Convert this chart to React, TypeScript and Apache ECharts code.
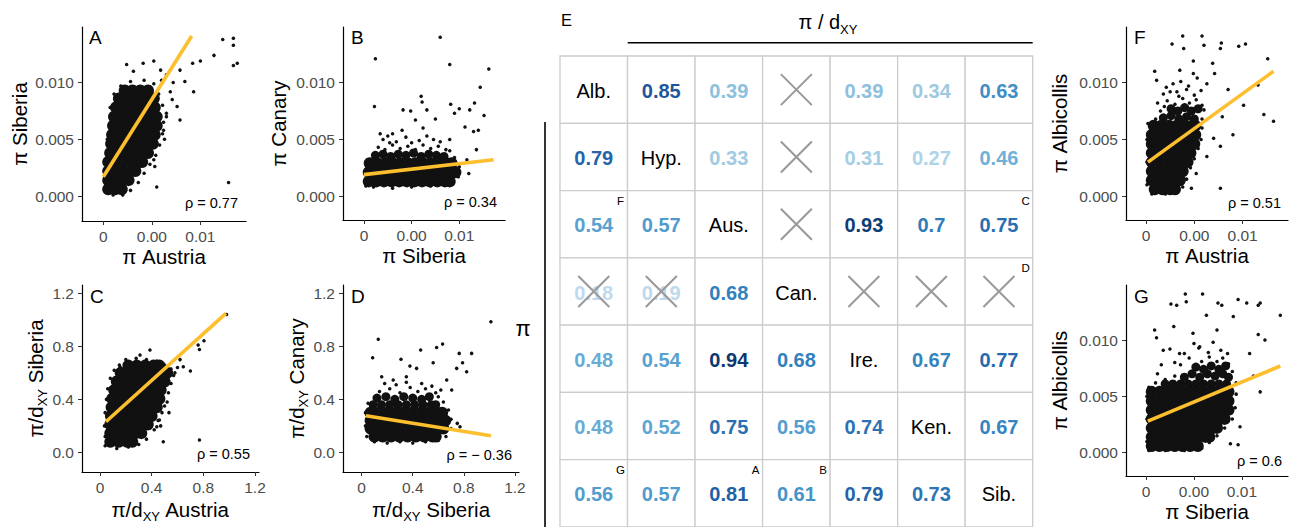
import React, { useEffect, useRef } from 'react';
import * as echarts from 'echarts';

const FONT = '"Liberation Sans", Arial, Helvetica, sans-serif';
const FIT_COLOR = '#FDBF2E';

// ---------- tick values and labels ----------
const piTicks = [0, 0.005, 0.01];
const piXTickLabels = ['0', '0.00', '0.01'];
const piYTickLabels = ['0.000', '0.005', '0.010'];
const ratioTicks = [0, 0.4, 0.8, 1.2];
const ratioXTickLabels = ['0', '0.4', '0.8', '1.2'];
const ratioYTickLabels = ['0.0', '0.4', '0.8', '1.2'];

// ---------- Panel A: pi Austria vs pi Siberia ----------
const aCore = [
  [0.0005,0.0006],[0.0012,0.0006],[0.0019,0.0006],
  [0.0005,0.0014],[0.0013,0.0014],[0.0020,0.0014],[0.0026,0.0014],
  [0.0005,0.0022],[0.0013,0.0022],[0.0021,0.0022],[0.0029,0.0022],[0.0033,0.0022],
  [0.0005,0.0030],[0.0013,0.0030],[0.0021,0.0030],[0.0029,0.0030],[0.0037,0.0030],[0.0040,0.0030],
  [0.0007,0.0038],[0.0015,0.0038],[0.0023,0.0038],[0.0031,0.0038],[0.0039,0.0038],[0.0046,0.0038],
  [0.0008,0.0046],[0.0016,0.0046],[0.0024,0.0046],[0.0032,0.0046],[0.0040,0.0046],[0.0048,0.0046],[0.0051,0.0046],
  [0.0009,0.0054],[0.0017,0.0054],[0.0025,0.0054],[0.0033,0.0054],[0.0041,0.0054],[0.0049,0.0054],[0.0053,0.0054],
  [0.0010,0.0062],[0.0018,0.0062],[0.0026,0.0062],[0.0034,0.0062],[0.0042,0.0062],[0.0050,0.0062],[0.0055,0.0062],
  [0.0011,0.0070],[0.0019,0.0070],[0.0027,0.0070],[0.0035,0.0070],[0.0043,0.0070],[0.0051,0.0070],[0.0055,0.0070],
  [0.0013,0.0078],[0.0021,0.0078],[0.0029,0.0078],[0.0037,0.0078],[0.0045,0.0078],[0.0053,0.0078],
  [0.0016,0.0086],[0.0024,0.0086],[0.0032,0.0086],[0.0040,0.0086],[0.0048,0.0086],[0.0052,0.0086],
  [0.0022,0.0093],[0.0030,0.0093],[0.0038,0.0093],[0.0046,0.0093],
];
const aMid: number[][] = [];
const aSparse = [
  [0.0003,0.0010],[0.0002,0.0030],[0.0004,0.0050],[0.0007,0.0078],[0.0011,0.0090],[0.0018,0.0097],
  [0.0028,0.0101],[0.0042,0.0102],[0.0052,0.0099],[0.0057,0.0090],[0.0061,0.0080],[0.0062,0.0065],
  [0.0061,0.0055],[0.0058,0.0045],[0.0054,0.0036],[0.0048,0.0028],[0.0042,0.0020],[0.0036,0.0012],
  [0.0028,0.0005],[0.0020,0.0001],[0.0010,0.0001],[0.0065,0.0070],[0.0063,0.0050],
  [0.0092,0.0117],[0.0100,0.0119],[0.0114,0.0124],[0.0123,0.0138],[0.0134,0.0139],[0.0134,0.0133],
  [0.0138,0.0117],[0.0134,0.0115],[0.0129,0.0012],[0.0055,0.0008],[0.0024,0.0116],[0.0052,0.0119],
  [0.0031,0.0110],[0.0079,0.0111],[0.0084,0.0101],[0.0093,0.0092],[0.0072,0.0100],[0.0065,0.0107],
  [0.0079,0.0067],[0.0076,0.0079],[0.0071,0.0085],[0.0065,0.0073],[0.0062,0.0058],[0.0053,0.0026],
  [0.0052,0.0032],[0.0041,0.0117],[0.0059,0.0111],[0.0069,0.0092],[0.0060,0.0102],
];
const aFit = [[0.0, 0.0017], [0.0091, 0.0141]];

// ---------- Panel B: pi Siberia vs pi Canary ----------
const bCore = [
  [0.0005,0.0013],[0.0013,0.0013],[0.0021,0.0013],[0.0029,0.0013],[0.0037,0.0013],[0.0045,0.0013],
  [0.0053,0.0013],[0.0061,0.0013],[0.0069,0.0013],[0.0077,0.0013],[0.0085,0.0013],[0.0090,0.0013],
  [0.0005,0.0021],[0.0013,0.0021],[0.0021,0.0021],[0.0029,0.0021],[0.0037,0.0021],[0.0045,0.0021],
  [0.0053,0.0021],[0.0061,0.0021],[0.0069,0.0021],[0.0077,0.0021],[0.0085,0.0021],[0.0093,0.0021],[0.0096,0.0021],
  [0.0006,0.0029],[0.0014,0.0029],[0.0022,0.0029],[0.0030,0.0029],[0.0038,0.0029],[0.0046,0.0029],
  [0.0054,0.0029],[0.0062,0.0029],[0.0070,0.0029],[0.0078,0.0029],[0.0086,0.0029],[0.0092,0.0029],
];
const bMid = [
  [0.0012,0.0036],[0.0020,0.0037],[0.0028,0.0035],[0.0036,0.0037],[0.0044,0.0036],
  [0.0052,0.0038],[0.0060,0.0035],[0.0068,0.0037],[0.0076,0.0036],[0.0084,0.0035],
];
const bSparse = [
  [0.0015,0.0043],[0.0022,0.0041],[0.0030,0.0045],[0.0038,0.0042],[0.0046,0.0044],[0.0054,0.0041],
  [0.0062,0.0045],[0.0070,0.0042],[0.0078,0.0044],[0.0086,0.0041],
  [0.0020,0.0050],[0.0034,0.0048],[0.0044,0.0052],[0.0058,0.0049],[0.0066,0.0053],[0.0080,0.0048],
  [0.0027,0.0047],[0.0050,0.0047],[0.0073,0.0050],[0.0040,0.0058],[0.0062,0.0060],[0.0017,0.0055],
  [0.0002,0.0009],[0.0002,0.0030],[0.0010,0.0008],[0.0030,0.0007],[0.0050,0.0008],[0.0070,0.0009],
  [0.0085,0.0010],[0.0099,0.0017],[0.0100,0.0026],[0.0095,0.0034],[0.0090,0.0040],
  [0.0012,0.0121],[0.0011,0.0079],[0.0080,0.0140],[0.0090,0.0116],[0.0131,0.0112],[0.0122,0.0096],
  [0.0126,0.0071],[0.0116,0.0082],[0.0091,0.0081],[0.0100,0.0077],[0.0060,0.0088],[0.0061,0.0083],
  [0.0049,0.0075],[0.0041,0.0076],[0.0066,0.0076],[0.0054,0.0067],[0.0075,0.0068],[0.0095,0.0073],
  [0.0106,0.0061],[0.0111,0.0076],[0.0115,0.0057],[0.0120,0.0058],[0.0118,0.0041],[0.0108,0.0032],
  [0.0110,0.0020],[0.0030,0.0055],[0.0025,0.0053],[0.0090,0.0050],
];
const bFit = [[0.0, 0.0019], [0.0136, 0.0032]];

// ---------- Panel C: pi/dXY Austria vs pi/dXY Siberia ----------
const cCore = [
  [0.08,0.08],[0.145,0.08],[0.21,0.08],[0.25,0.08],
  [0.08,0.145],[0.145,0.145],[0.21,0.145],[0.275,0.145],[0.32,0.145],
  [0.08,0.21],[0.145,0.21],[0.21,0.21],[0.275,0.21],[0.34,0.21],[0.37,0.21],
  [0.085,0.275],[0.15,0.275],[0.215,0.275],[0.28,0.275],[0.345,0.275],[0.40,0.275],
  [0.09,0.34],[0.155,0.34],[0.22,0.34],[0.285,0.34],[0.35,0.34],[0.415,0.34],[0.44,0.34],
  [0.095,0.405],[0.16,0.405],[0.225,0.405],[0.29,0.405],[0.355,0.405],[0.42,0.405],[0.46,0.405],
  [0.11,0.47],[0.175,0.47],[0.24,0.47],[0.305,0.47],[0.37,0.47],[0.435,0.47],[0.47,0.47],
  [0.13,0.535],[0.195,0.535],[0.26,0.535],[0.325,0.535],[0.39,0.535],[0.455,0.535],[0.50,0.535],
  [0.16,0.60],[0.225,0.60],[0.29,0.60],[0.355,0.60],[0.42,0.60],[0.485,0.60],[0.52,0.60],
  [0.22,0.655],[0.285,0.655],[0.35,0.655],[0.415,0.655],[0.46,0.655],
];
const cMid: number[][] = [];
const cSparse = [
  [0.04,0.05],[0.04,0.12],[0.035,0.2],[0.04,0.3],[0.05,0.4],[0.06,0.48],[0.08,0.56],[0.11,0.62],
  [0.15,0.66],[0.2,0.7],[0.28,0.71],[0.36,0.7],[0.44,0.69],[0.5,0.66],[0.55,0.63],[0.57,0.58],
  [0.55,0.52],[0.53,0.45],[0.52,0.38],[0.48,0.3],[0.45,0.24],[0.42,0.17],[0.36,0.1],[0.3,0.06],
  [0.22,0.04],[0.13,0.03],[0.6,0.64],[0.58,0.6],[0.47,0.2],[0.5,0.35],
  [0.98,1.04],[0.805,0.842],[0.76,0.81],[0.77,0.777],[0.70,0.614],[0.645,0.646],[0.62,0.70],
  [0.534,0.30],[0.49,0.08],[0.77,0.093],[0.387,0.772],[0.31,0.734],[0.155,0.646],[0.44,0.193],[0.46,0.244],
];
const cFit = [[0.046, 0.231], [0.975, 1.049]];

// ---------- Panel D: pi/dXY Siberia vs pi/dXY Canary ----------
const dCore = [
  [0.10,0.12],[0.165,0.12],[0.23,0.12],[0.295,0.12],[0.36,0.12],[0.425,0.12],[0.49,0.12],[0.555,0.12],[0.58,0.12],
  [0.07,0.18],[0.135,0.18],[0.20,0.18],[0.265,0.18],[0.33,0.18],[0.395,0.18],[0.46,0.18],[0.525,0.18],[0.59,0.18],[0.64,0.18],
  [0.07,0.24],[0.135,0.24],[0.20,0.24],[0.265,0.24],[0.33,0.24],[0.395,0.24],[0.46,0.24],[0.525,0.24],[0.59,0.24],[0.655,0.24],
  [0.07,0.30],[0.135,0.30],[0.20,0.30],[0.265,0.30],[0.33,0.30],[0.395,0.30],[0.46,0.30],[0.525,0.30],[0.59,0.30],[0.63,0.30],
];
const dMid = [
  [0.09,0.36],[0.155,0.36],[0.22,0.36],[0.285,0.36],[0.35,0.36],[0.415,0.36],[0.48,0.36],[0.545,0.36],[0.58,0.36],
  [0.12,0.41],[0.19,0.42],[0.26,0.40],[0.33,0.42],[0.40,0.41],[0.47,0.40],[0.53,0.42],
];
const dSparse = [
  [0.14,0.46],[0.22,0.48],[0.30,0.45],[0.38,0.49],[0.44,0.46],[0.50,0.48],[0.58,0.45],
  [0.18,0.52],[0.27,0.51],[0.35,0.53],[0.47,0.52],[0.55,0.50],[0.62,0.47],
  [0.04,0.12],[0.03,0.2],[0.03,0.3],[0.05,0.37],[0.1,0.08],[0.2,0.07],[0.3,0.08],[0.4,0.07],[0.5,0.08],
  [0.6,0.09],[0.66,0.12],[0.7,0.18],[0.7,0.25],[0.68,0.32],[0.64,0.38],[0.6,0.42],
  [1.012,0.986],[0.13,0.853],[0.086,0.714],[0.634,0.817],[0.587,0.792],[0.462,0.772],[0.764,0.747],
  [0.861,0.747],[0.79,0.676],[0.744,0.634],[0.822,0.608],[0.56,0.676],[0.308,0.702],[0.378,0.651],
  [0.43,0.634],[0.157,0.571],[0.666,0.546],[0.705,0.47],[0.749,0.219],[0.77,0.193],[0.247,0.546],[0.35,0.571],
];
const dFit = [[0.034, 0.276], [1.012, 0.125]];

// ---------- Panel F: pi Austria vs pi Albicollis ----------
const fCore = [
  [0.0009,0.0006],[0.0017,0.0006],[0.0025,0.0006],[0.0030,0.0006],
  [0.0006,0.0014],[0.0014,0.0014],[0.0022,0.0014],[0.0030,0.0014],[0.0035,0.0014],
  [0.0006,0.0022],[0.0014,0.0022],[0.0022,0.0022],[0.0030,0.0022],[0.0038,0.0022],
  [0.0006,0.0030],[0.0014,0.0030],[0.0022,0.0030],[0.0030,0.0030],[0.0038,0.0030],[0.0043,0.0030],
  [0.0006,0.0038],[0.0014,0.0038],[0.0022,0.0038],[0.0030,0.0038],[0.0038,0.0038],[0.0046,0.0038],
  [0.0006,0.0046],[0.0014,0.0046],[0.0022,0.0046],[0.0030,0.0046],[0.0038,0.0046],[0.0046,0.0046],[0.0050,0.0046],
  [0.0006,0.0054],[0.0014,0.0054],[0.0022,0.0054],[0.0030,0.0054],[0.0038,0.0054],[0.0046,0.0054],[0.0051,0.0054],
  [0.0008,0.0062],[0.0016,0.0062],[0.0024,0.0062],[0.0032,0.0062],[0.0040,0.0062],[0.0048,0.0062],[0.0051,0.0062],
];
const fMid = [
  [0.0018,0.0069],[0.0026,0.0071],[0.0034,0.0068],[0.0042,0.0070],[0.0050,0.0068],
  [0.0026,0.0077],[0.0033,0.0075],[0.0040,0.0078],[0.0047,0.0075],[0.0054,0.0077],
];
const fSparse = [
  [0.0022,0.0084],[0.0030,0.0081],[0.0038,0.0086],[0.0045,0.0082],[0.0052,0.0085],[0.0058,0.0080],
  [0.0025,0.0092],[0.0034,0.0088],[0.0042,0.0094],[0.0050,0.0089],[0.0057,0.0093],
  [0.0019,0.0079],[0.0044,0.0097],[0.0036,0.0101],[0.0053,0.0104],[0.0028,0.0099],
  [0.0001,0.0010],[0.0001,0.0030],[0.0001,0.0050],[0.0002,0.0064],[0.0010,0.0068],[0.0006,0.0002],
  [0.0020,0.0002],[0.0032,0.0003],[0.0038,0.0008],[0.0042,0.0015],[0.0046,0.0025],[0.0050,0.0033],
  [0.0054,0.0042],[0.0057,0.0050],[0.0058,0.0060],[0.0058,0.0068],[0.0060,0.0076],[0.0015,0.0075],
  [0.0012,0.0082],[0.0018,0.0090],
  [0.0038,0.0141],[0.0058,0.0141],[0.0078,0.0135],[0.0103,0.0134],[0.0096,0.0132],[0.0027,0.0134],
  [0.0039,0.0130],[0.0060,0.0133],[0.0077,0.0130],[0.0126,0.0121],[0.0116,0.0098],[0.0132,0.0066],
  [0.0122,0.0072],[0.0101,0.0080],[0.0090,0.0054],[0.0077,0.0044],[0.0079,0.0070],[0.0085,0.0094],
  [0.0069,0.0117],[0.0049,0.0119],[0.0009,0.0110],[0.0011,0.0102],[0.0077,0.0007],[0.0071,0.0108],
  [0.0063,0.0099],[0.0021,0.0096],[0.0032,0.0092],[0.0049,0.0108],[0.0035,0.0111],[0.0070,0.0051],
  [0.0063,0.0035],[0.0052,0.0020],[0.0047,0.0007],
];
const fFit = [[0.0002, 0.0030], [0.0132, 0.0110]];

// ---------- Panel G: pi Siberia vs pi Albicollis ----------
const gCore = [
  [0.0006,0.0006],[0.0014,0.0006],[0.0022,0.0006],[0.0030,0.0006],[0.0038,0.0006],[0.0046,0.0006],[0.0054,0.0006],
  [0.0006,0.0014],[0.0014,0.0014],[0.0022,0.0014],[0.0030,0.0014],[0.0038,0.0014],[0.0046,0.0014],[0.0054,0.0014],[0.0062,0.0014],[0.0066,0.0014],
  [0.0006,0.0022],[0.0014,0.0022],[0.0022,0.0022],[0.0030,0.0022],[0.0038,0.0022],[0.0046,0.0022],[0.0054,0.0022],[0.0062,0.0022],[0.0070,0.0022],[0.0074,0.0022],
  [0.0006,0.0030],[0.0014,0.0030],[0.0022,0.0030],[0.0030,0.0030],[0.0038,0.0030],[0.0046,0.0030],[0.0054,0.0030],[0.0062,0.0030],[0.0070,0.0030],[0.0078,0.0030],[0.0082,0.0030],
  [0.0006,0.0038],[0.0014,0.0038],[0.0022,0.0038],[0.0030,0.0038],[0.0038,0.0038],[0.0046,0.0038],[0.0054,0.0038],[0.0062,0.0038],[0.0070,0.0038],[0.0078,0.0038],[0.0086,0.0038],
  [0.0006,0.0046],[0.0014,0.0046],[0.0022,0.0046],[0.0030,0.0046],[0.0038,0.0046],[0.0046,0.0046],[0.0054,0.0046],[0.0062,0.0046],[0.0070,0.0046],[0.0078,0.0046],[0.0086,0.0046],
  [0.0006,0.0054],[0.0014,0.0054],[0.0022,0.0054],[0.0030,0.0054],[0.0038,0.0054],[0.0046,0.0054],[0.0054,0.0054],[0.0062,0.0054],[0.0070,0.0054],[0.0078,0.0054],[0.0086,0.0054],
];
const gMid = [
  [0.0020,0.0061],[0.0028,0.0061],[0.0036,0.0061],[0.0044,0.0061],[0.0052,0.0061],[0.0060,0.0061],[0.0068,0.0061],[0.0076,0.0061],[0.0084,0.0061],
  [0.0040,0.0067],[0.0048,0.0070],[0.0056,0.0067],[0.0064,0.0070],[0.0072,0.0068],[0.0080,0.0070],[0.0086,0.0067],
  [0.0052,0.0076],[0.0060,0.0074],[0.0068,0.0077],[0.0076,0.0074],[0.0083,0.0077],
];
const gSparse = [
  [0.0030,0.0080],[0.0045,0.0084],[0.0058,0.0081],[0.0066,0.0085],[0.0074,0.0081],[0.0080,0.0084],
  [0.0025,0.0092],[0.0040,0.0088],[0.0055,0.0093],[0.0065,0.0089],[0.0078,0.0091],
  [0.0036,0.0078],[0.0050,0.0097],[0.0070,0.0098],[0.0085,0.0088],
  [0.0001,0.0010],[0.0001,0.0030],[0.0001,0.0050],[0.0003,0.0058],[0.0010,0.0062],[0.0020,0.0065],
  [0.0030,0.0068],[0.0003,0.0002],[0.0020,0.0002],[0.0040,0.0002],[0.0058,0.0004],[0.0066,0.0009],
  [0.0074,0.0015],[0.0082,0.0022],[0.0090,0.0030],[0.0093,0.0040],[0.0094,0.0052],[0.0094,0.0062],
  [0.0090,0.0072],[0.0086,0.0079],[0.0012,0.0070],[0.0016,0.0078],
  [0.0041,0.0141],[0.0042,0.0134],[0.0059,0.0141],[0.0026,0.0132],[0.0032,0.0131],[0.0075,0.0133],
  [0.0079,0.0131],[0.0096,0.0136],[0.0105,0.0133],[0.0119,0.0133],[0.0117,0.0131],[0.0140,0.0122],
  [0.0124,0.0100],[0.0117,0.0105],[0.0119,0.0054],[0.0112,0.0068],[0.0088,0.0008],[0.0096,0.0007],
  [0.0098,0.0023],[0.0009,0.0109],[0.0011,0.0102],[0.0029,0.0112],[0.0049,0.0106],[0.0063,0.0122],
  [0.0091,0.0121],[0.0074,0.0109],[0.0018,0.0091],[0.0035,0.0088],[0.0056,0.0094],[0.0108,0.0088],
];
const gFit = [[0.0002, 0.0028], [0.0140, 0.0077]];

// ---------- Matrix E ----------
const species = ['Alb.', 'Hyp.', 'Aus.', 'Can.', 'Ire.', 'Ken.', 'Sib.'];
const matrixValues: (number | null)[][] = [
  [null, 0.85, 0.39, null, 0.39, 0.34, 0.63],
  [0.79, null, 0.33, null, 0.31, 0.27, 0.46],
  [0.54, 0.57, null, null, 0.93, 0.7, 0.75],
  [0.18, 0.19, 0.68, null, null, null, null],
  [0.48, 0.54, 0.94, 0.68, null, 0.67, 0.77],
  [0.48, 0.52, 0.75, 0.56, 0.74, null, 0.67],
  [0.56, 0.57, 0.81, 0.61, 0.79, 0.73, null],
];
const crossedCells = [[0, 3], [1, 3], [2, 3], [3, 0], [3, 1], [3, 4], [3, 5], [3, 6]]; // [row, col]
const panelTags: [number, number, string][] = [
  [2, 0, 'F'], [2, 6, 'C'], [3, 6, 'D'], [6, 0, 'G'], [6, 2, 'A'], [6, 3, 'B'],
];

// colour scale (styling)
const blueStops: [number, string][] = [
  [0.15, '#c6dbef'], [0.27, '#aed4e9'], [0.34, '#9ecae1'], [0.39, '#8cc0de'], [0.47, '#6baed6'],
  [0.55, '#559fcf'], [0.62, '#4292c6'], [0.68, '#3181bd'], [0.75, '#2a6fb1'], [0.8, '#2363a7'],
  [0.85, '#1d569b'], [0.93, '#0f3d76'], [0.95, '#0a336a'],
];
function hexToRgb(h: string) {
  return [parseInt(h.slice(1, 3), 16), parseInt(h.slice(3, 5), 16), parseInt(h.slice(5, 7), 16)];
}
function blueFor(v: number): string {
  if (v <= blueStops[0][0]) return blueStops[0][1];
  for (let i = 1; i < blueStops.length; i++) {
    if (v <= blueStops[i][0]) {
      const [v0, c0] = blueStops[i - 1];
      const [v1, c1] = blueStops[i];
      const t = (v - v0) / (v1 - v0);
      const a = hexToRgb(c0), b = hexToRgb(c1);
      const m = a.map((x, k) => Math.round(x + (b[k] - x) * t));
      return `rgb(${m[0]},${m[1]},${m[2]})`;
    }
  }
  return blueStops[blueStops.length - 1][1];
}

type PanelCfg = {
  grid: { left: number; top: number; width: number; height: number };
  xr: [number, number]; yr: [number, number];
  xt: number[]; xl: string[]; yt: number[]; yl: string[];
  xname: string; yname: string; xgap: number; ygap: number;
  core: number[][]; mid: number[][]; sparse: number[][]; fit: number[][];
};

const panels: PanelCfg[] = [
  { grid: { left: 82, top: 27, width: 164, height: 194 }, xr: [-0.0022, 0.0147], yr: [-0.0022, 0.0149],
    xt: piTicks, xl: piXTickLabels, yt: piTicks, yl: piYTickLabels, xname: 'π Austria', yname: 'π Siberia',
    xgap: 25, ygap: 52, core: aCore, mid: aMid, sparse: aSparse, fit: aFit },
  { grid: { left: 343, top: 27, width: 162, height: 193 }, xr: [-0.0022, 0.0148], yr: [-0.0021, 0.0149],
    xt: piTicks, xl: piXTickLabels, yt: piTicks, yl: piYTickLabels, xname: 'π Siberia', yname: 'π Canary',
    xgap: 25, ygap: 54, core: bCore, mid: bMid, sparse: bSparse, fit: bFit },
  { grid: { left: 82, top: 285, width: 177, height: 187 }, xr: [-0.139, 1.231], yr: [-0.148, 1.263],
    xt: ratioTicks, xl: ratioXTickLabels, yt: ratioTicks, yl: ratioYTickLabels, xname: 'π/d{sub|XY} Austria', yname: 'π/d{sub|XY} Siberia',
    xgap: 27, ygap: 31, core: cCore, mid: cMid, sparse: cSparse, fit: cFit },
  { grid: { left: 343, top: 285, width: 176, height: 187 }, xr: [-0.146, 1.232], yr: [-0.148, 1.263],
    xt: ratioTicks, xl: ratioXTickLabels, yt: ratioTicks, yl: ratioYTickLabels, xname: 'π/d{sub|XY} Siberia', yname: 'π/d{sub|XY} Canary',
    xgap: 27, ygap: 31, core: dCore, mid: dMid, sparse: dSparse, fit: dFit },
  { grid: { left: 1126, top: 27, width: 162, height: 193 }, xr: [-0.00207, 0.0147], yr: [-0.0021, 0.0149],
    xt: piTicks, xl: piXTickLabels, yt: piTicks, yl: piYTickLabels, xname: 'π Austria', yname: 'π Albicollis',
    xgap: 25, ygap: 56, core: fCore, mid: fMid, sparse: fSparse, fit: fFit },
  { grid: { left: 1126, top: 285, width: 162, height: 191 }, xr: [-0.00208, 0.0148], yr: [-0.00207, 0.01489],
    xt: piTicks, xl: piXTickLabels, yt: piTicks, yl: piYTickLabels, xname: 'π Siberia', yname: 'π Albicollis',
    xgap: 25, ygap: 56, core: gCore, mid: gMid, sparse: gSparse, fit: gFit },
];

const panelLetters: [string, number, number][] = [
  ['A', 89, 37], ['B', 351, 37], ['C', 90, 296], ['D', 351, 296], ['F', 1134, 37], ['G', 1134, 296],
];
const rhoLabels: [string, number, number][] = [
  ['ρ = 0.77', 238, 203], ['ρ = 0.34', 497, 202], ['ρ = 0.55', 250, 454],
  ['ρ = − 0.36', 512, 455], ['ρ = 0.51', 1281, 203], ['ρ = 0.6', 1282, 461],
];

const subRich = { sub: { fontSize: 13, fontFamily: FONT, padding: [14, 0, 0, 0], lineHeight: 13 } };

function labelFor(ticks: number[], labels: string[]) {
  return (v: number) => {
    for (let i = 0; i < ticks.length; i++) if (Math.abs(ticks[i] - v) < 1e-9) return labels[i];
    return '';
  };
}

function buildOption() {
  const grids: any[] = [];
  const xAxes: any[] = [];
  const yAxes: any[] = [];
  const series: any[] = [];
  panels.forEach((p, i) => {
    grids.push({ ...p.grid, containLabel: false });
    const common = (ticks: number[], labels: string[], margin: number) => ({
      type: 'value', gridIndex: i, splitLine: { show: false },
      axisLine: { show: true, onZero: false, lineStyle: { color: '#000', width: 1.2 } },
      axisTick: { show: true, length: 4, customValues: ticks, lineStyle: { color: '#333', width: 1 } },
      axisLabel: { customValues: ticks, formatter: labelFor(ticks, labels), color: '#4d4d4d', fontSize: 15.5, fontFamily: FONT, margin },
      nameLocation: 'middle',
      nameTextStyle: { fontSize: 20.5, color: '#000', fontFamily: FONT, rich: subRich },
    });
    xAxes.push({ ...common(p.xt, p.xl, 7), min: p.xr[0], max: p.xr[1], name: p.xname, nameGap: p.xgap });
    yAxes.push({ ...common(p.yt, p.yl, 8), min: p.yr[0], max: p.yr[1], name: p.yname, nameGap: p.ygap });
    const sc = (data: number[][], size: number) => ({
      type: 'scatter', xAxisIndex: i, yAxisIndex: i, data, symbol: 'circle', symbolSize: size, silent: true,
      itemStyle: { color: '#111', opacity: 1, borderWidth: 0, borderColor: '#111' },
      emphasis: { disabled: true },
    });
    series.push(sc(p.sparse, 3.5));
    series.push(sc(p.mid, 9));
    series.push(sc(p.core, 12));
    series.push({
      type: 'line', xAxisIndex: i, yAxisIndex: i, data: p.fit, symbol: 'none', silent: true, z: 5,
      lineStyle: { color: FIT_COLOR, width: 3.6, cap: 'butt' },
    });
  });

  // matrix grid
  const mi = panels.length;
  grids.push({ left: 560, top: 56, width: 472.7, height: 471.1 });
  xAxes.push({ type: 'category', gridIndex: mi, data: species, show: false });
  yAxes.push({ type: 'category', gridIndex: mi, data: species, inverse: true, show: false });

  const cells: { row: number; col: number; text: string; bold: boolean; color: string }[] = [];
  matrixValues.forEach((rowVals, r) => {
    rowVals.forEach((v, c) => {
      if (r === c) cells.push({ row: r, col: c, text: species[r], bold: false, color: '#000' });
      else if (v == null) cells.push({ row: r, col: c, text: '', bold: true, color: '#000' });
      else cells.push({ row: r, col: c, text: String(v), bold: true, color: blueFor(v) });
    });
  });

  series.push({
    type: 'custom', xAxisIndex: mi, yAxisIndex: mi, silent: true,
    data: cells.map((c) => [c.col, c.row]),
    renderItem: (params: any, api: any) => {
      const cell = cells[params.dataIndex];
      const pt = api.coord([api.value(0), api.value(1)]);
      const sz = api.size([1, 1]);
      const children: any[] = [{
        type: 'rect', shape: { x: pt[0] - sz[0] / 2, y: pt[1] - sz[1] / 2, width: sz[0], height: sz[1] },
        style: { fill: '#fff', stroke: '#cccccc', lineWidth: 1.3 },
      }];
      if (cell.text) {
        children.push({
          type: 'text',
          style: {
            text: cell.text, x: pt[0], y: pt[1] + 1, align: 'center', verticalAlign: 'middle',
            fontSize: 20, fontWeight: cell.bold ? 'bold' : 'normal', fontFamily: FONT, fill: cell.color,
          },
        });
      }
      return { type: 'group', children };
    },
  });

  series.push({
    type: 'custom', xAxisIndex: mi, yAxisIndex: mi, silent: true, z: 3,
    data: crossedCells.map(([r, c]) => [c, r]),
    renderItem: (params: any, api: any) => {
      const pt = api.coord([api.value(0), api.value(1)]);
      const d = 15.5;
      const st = { stroke: '#999999', lineWidth: 2 };
      return {
        type: 'group', children: [
          { type: 'line', shape: { x1: pt[0] - d, y1: pt[1] - d, x2: pt[0] + d, y2: pt[1] + d }, style: st },
          { type: 'line', shape: { x1: pt[0] - d, y1: pt[1] + d, x2: pt[0] + d, y2: pt[1] - d }, style: st },
        ],
      };
    },
  });

  series.push({
    type: 'custom', xAxisIndex: mi, yAxisIndex: mi, silent: true, z: 3,
    data: panelTags.map(([r, c]) => [c, r]),
    renderItem: (params: any, api: any) => {
      const pt = api.coord([api.value(0), api.value(1)]);
      const sz = api.size([1, 1]);
      return {
        type: 'text',
        style: {
          text: panelTags[params.dataIndex][2], x: pt[0] + sz[0] / 2 - 7, y: pt[1] - sz[1] / 2 + 10,
          align: 'center', verticalAlign: 'middle', fontSize: 11.5, fontFamily: FONT, fill: '#000',
        },
      };
    },
  });

  const txt = (text: string, x: number, y: number, size: number, align: string, extra: any = {}) => ({
    type: 'text', x, y, silent: true,
    style: { text, fontSize: size, fontFamily: FONT, fill: '#000', align, textAlign: align,
      verticalAlign: 'middle', textVerticalAlign: 'middle', ...extra },
  });

  const graphic: any[] = [
    ...panelLetters.map(([t, x, y]) => txt(t, x, y, 19, 'left')),
    ...rhoLabels.map(([t, x, y]) => txt(t, x, y, 14.5, 'right')),
    txt('E', 561, 20, 16.5, 'left'),
    txt('π / d{sub|XY}', 828, 22, 20, 'center', { rich: subRich }),
    txt('π', 523, 328, 22, 'center'),
    { type: 'line', silent: true, shape: { x1: 627.7, y1: 42.7, x2: 1032.7, y2: 42.7 }, style: { stroke: '#000', lineWidth: 1.5 } },
    { type: 'line', silent: true, shape: { x1: 545, y1: 122, x2: 545, y2: 527 }, style: { stroke: '#000', lineWidth: 1.6 } },
  ];

  return {
    animation: false,
    backgroundColor: '#ffffff',
    textStyle: { fontFamily: FONT },
    grid: grids,
    xAxis: xAxes,
    yAxis: yAxes,
    series,
    graphic,
  };
}

export default function App() {
  const ref = useRef<HTMLDivElement>(null);
  useEffect(() => {
    const chart = echarts.init(ref.current!, null, { renderer: 'svg' });
    chart.setOption(buildOption() as any);
    return () => chart.dispose();
  }, []);
  return <div ref={ref} style={{ position: 'fixed', left: 0, top: 0, width: 1289, height: 527, background: '#fff' }} />;
}
